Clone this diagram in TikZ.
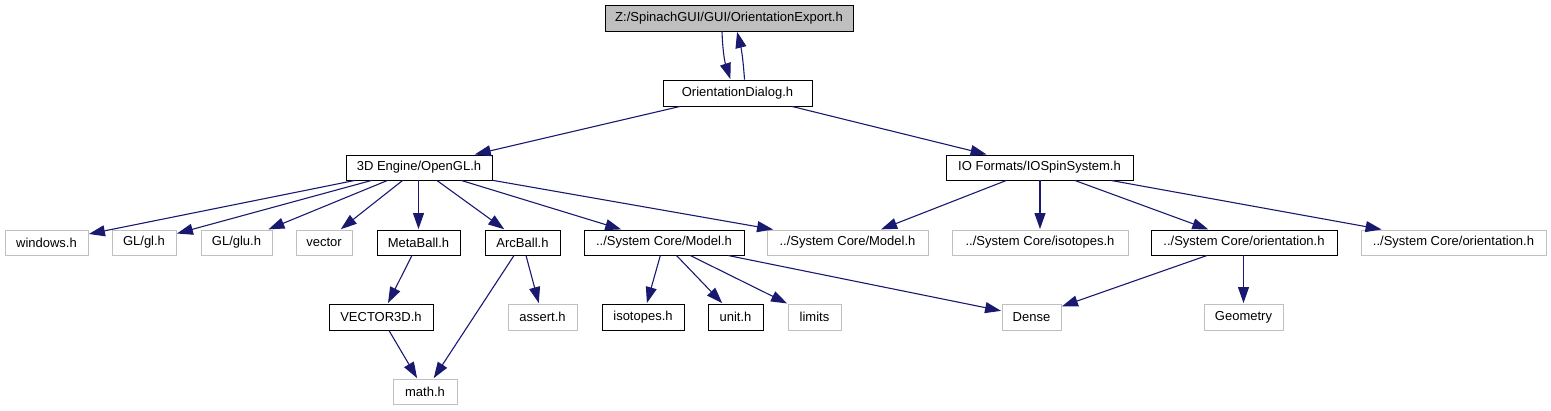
\documentclass[tikz,border=0pt]{standalone}
\usepackage{fontspec}
\setmainfont{Liberation Sans}
\usetikzlibrary{arrows.meta}
\definecolor{edgeblue}{HTML}{191970}
\definecolor{boxgray}{HTML}{BFBFBF}
\definecolor{linegray}{HTML}{C0C0C0}
\tikzset{
  base/.style={rectangle, inner sep=0pt, font=\fontsize{13}{15}\selectfont, line width=0.9pt},
  doc/.style={base, draw=black},
  ext/.style={base, draw=linegray},
  root/.style={base, draw=black, fill=boxgray},
  edge/.style={draw=edgeblue, line width=1.1pt, -{Triangle[length=16pt,width=11pt]}, shorten >=0.5pt}
}
% style, name, text, left, right, top, bottom
\newcommand{\boxnode}[7]{\node[#1, minimum width={(#5-#4)*1pt}, minimum height={(#7-#6)*1pt}] (#2) at ({(#4+#5)/2},{(#6+#7)/2}) {#3};}
\begin{document}
\begin{tikzpicture}[x=1pt,y=-1pt]
\useasboundingbox (0,0) rectangle (1551,411);
\boxnode{root}{top}{Z:/SpinachGUI/GUI/OrientationExport.h}{605}{853}{5}{31}
\boxnode{doc}{dlg}{OrientationDialog.h}{663}{812}{80}{106}
\boxnode{doc}{ogl}{3D Engine/OpenGL.h}{346}{492}{155}{180}
\boxnode{doc}{io}{IO Formats/IOSpinSystem.h}{946}{1133}{155}{180}
\boxnode{ext}{win}{windows.h}{5}{88}{230}{255}
\boxnode{ext}{gl}{GL/gl.h}{112}{176}{230}{255}
\boxnode{ext}{glu}{GL/glu.h}{201}{272}{230}{255}
\boxnode{ext}{vec}{vector}{296}{352}{230}{255}
\boxnode{doc}{meta}{MetaBall.h}{377}{460}{230}{255}
\boxnode{doc}{arc}{ArcBall.h}{485}{560}{230}{255}
\boxnode{doc}{model}{../System Core/Model.h}{584}{744}{230}{255}
\boxnode{ext}{modelg}{../System Core/Model.h}{767}{928}{230}{255}
\boxnode{ext}{isog}{../System Core/isotopes.h}{952}{1128}{230}{255}
\boxnode{doc}{ori}{../System Core/orientation.h}{1151}{1337}{230}{255}
\boxnode{ext}{orig}{../System Core/orientation.h}{1361}{1546}{230}{255}
\boxnode{doc}{v3d}{VECTOR3D.h}{329}{433}{304}{330}
\boxnode{ext}{assert}{assert.h}{508}{577}{304}{330}
\boxnode{doc}{iso}{isotopes.h}{602}{684}{304}{330}
\boxnode{doc}{unit}{unit.h}{708}{763}{304}{330}
\boxnode{ext}{limits}{limits}{788}{841}{304}{330}
\boxnode{ext}{dense}{Dense}{1002}{1061}{304}{330}
\boxnode{ext}{geom}{Geometry}{1204}{1283}{304}{330}
\boxnode{ext}{math}{math.h}{393}{457}{379}{404}
% edges
\draw[edge] ([xshift=-7pt]top.south) to[bend right=8] ([xshift=-7pt]dlg.north);
\draw[edge] ([xshift=7pt]dlg.north) to[bend right=5] ([xshift=8pt]top.south);
\draw[edge] (dlg) -- (ogl);
\draw[edge] (dlg) -- (io);
\draw[edge] (ogl) -- (win);
\draw[edge] (ogl) -- (gl);
\draw[edge] (ogl) -- (glu);
\draw[edge] (ogl) -- (vec);
\draw[edge] (ogl.south -| meta.north) -- (meta.north);
\draw[edge] (ogl) -- (arc);
\draw[edge] (ogl) -- (model);
\draw[edge] (ogl) -- (modelg);
\draw[edge] (io) -- (modelg);
\draw[edge] (io.south -| isog.north) -- (isog.north);
\draw[edge] (io) -- (ori);
\draw[edge] (io) -- (orig);
\draw[edge] (meta) -- (v3d);
\draw[edge] (arc) -- (assert);
\draw[edge] (arc) -- (math);
\draw[edge] (v3d) -- (math);
\draw[edge] (model) -- (iso);
\draw[edge] (model) -- (unit);
\draw[edge] (model) -- (limits);
\draw[edge] (model) -- (dense);
\draw[edge] (ori) -- (dense);
\draw[edge] (ori.south -| geom.north) -- (geom.north);
\end{tikzpicture}
\end{document}
